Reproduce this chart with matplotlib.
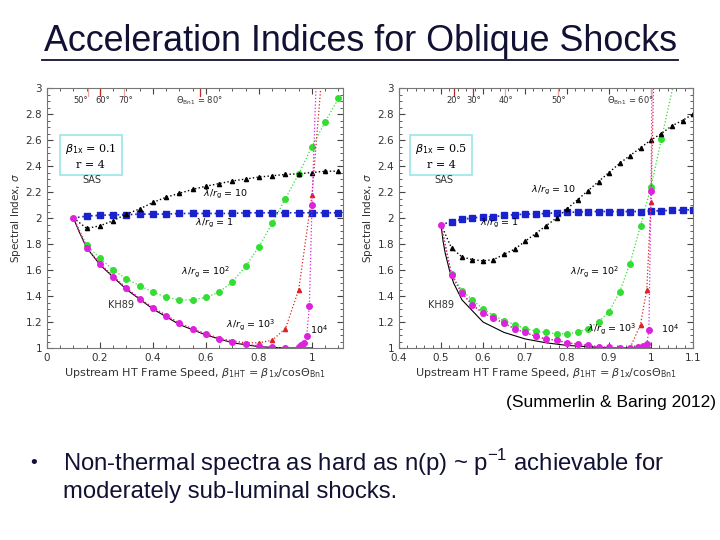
import numpy as np
import matplotlib
matplotlib.use('Agg')
import matplotlib.pyplot as plt

# ---- left panel data (beta_1x = 0.1) ----
L_x_blue = [0.15, 0.2, 0.25, 0.3, 0.35, 0.4, 0.45, 0.5, 0.55, 0.6, 0.65, 0.7, 0.75, 0.8, 0.85, 0.9, 0.95, 1.0, 1.05, 1.1]
L_y_blue = [2.015, 2.02, 2.025, 2.025, 2.03, 2.03, 2.03, 2.035, 2.035, 2.035, 2.035, 2.035, 2.04, 2.04, 2.04, 2.04, 2.04, 2.04, 2.04, 2.04]
L_x_black = [0.15, 0.2, 0.25, 0.3, 0.35, 0.4, 0.45, 0.5, 0.55, 0.6, 0.65, 0.7, 0.75, 0.8, 0.85, 0.9, 0.95, 1.0, 1.05, 1.1]
L_y_black = [1.92, 1.94, 1.98, 2.03, 2.07, 2.12, 2.16, 2.19, 2.22, 2.245, 2.265, 2.285, 2.3, 2.315, 2.325, 2.335, 2.34, 2.35, 2.36, 2.36]
L_x_green = [0.15, 0.2, 0.25, 0.3, 0.35, 0.4, 0.45, 0.5, 0.55, 0.6, 0.65, 0.7, 0.75, 0.8, 0.85, 0.9, 0.95, 1.0, 1.05, 1.1]
L_y_green = [1.79, 1.69, 1.6, 1.53, 1.48, 1.43, 1.39, 1.37, 1.37, 1.39, 1.43, 1.51, 1.63, 1.78, 1.96, 2.15, 2.34, 2.55, 2.74, 2.92]
L_x_red = [0.15, 0.2, 0.25, 0.3, 0.35, 0.4, 0.45, 0.5, 0.55, 0.6, 0.65, 0.7, 0.75, 0.8, 0.85, 0.9, 0.95, 1.0]
L_y_red = [1.77, 1.65, 1.55, 1.46, 1.38, 1.31, 1.25, 1.19, 1.145, 1.11, 1.075, 1.055, 1.04, 1.04, 1.06, 1.15, 1.45, 2.18]
L_red_tail = ([1.0, 1.045], [2.18, 3.3])
L_x_mag = [0.15, 0.2, 0.25, 0.3, 0.35, 0.4, 0.45, 0.5, 0.55, 0.6, 0.65, 0.7, 0.75, 0.8, 0.85, 0.9, 0.95, 0.96, 0.97, 0.98, 0.99, 1.0]
L_y_mag = [1.77, 1.65, 1.55, 1.46, 1.38, 1.31, 1.25, 1.19, 1.145, 1.105, 1.07, 1.045, 1.03, 1.015, 1.005, 1.0, 1.005, 1.02, 1.04, 1.09, 1.32, 2.1]
L_mag_tail = ([1.0, 1.02], [2.1, 3.3])
L_x_kh = [0.1, 0.12, 0.15, 0.2, 0.3, 0.4, 0.5, 0.6, 0.7, 0.8, 0.9, 1.0]
L_y_kh = [2.0, 1.9, 1.77, 1.64, 1.45, 1.3, 1.18, 1.1, 1.04, 1.01, 1.0, 1.0]
L_start = (0.1, 2.0)
L_ang_x = [0.156, 0.2, 0.292, 0.576]
L_ang_labx = [0.128, 0.21, 0.297, 0.575]
L_ang_lab = ['50°', '60°', '70°', r'$\Theta_{\rm Bn1}$ = 80°']
L_ang_red = [False, True, False, True]

# ---- right panel data (beta_1x = 0.5) ----
R_x = [0.525, 0.55, 0.575, 0.6, 0.625, 0.65, 0.675, 0.7, 0.725, 0.75, 0.775, 0.8, 0.825, 0.85, 0.875, 0.9, 0.925, 0.95, 0.975, 1.0, 1.025, 1.05, 1.075, 1.1]
R_y_blue = [1.97, 1.99, 2.0, 2.01, 2.01, 2.02, 2.025, 2.03, 2.03, 2.035, 2.04, 2.045, 2.045, 2.05, 2.05, 2.05, 2.05, 2.05, 2.05, 2.055, 2.055, 2.06, 2.06, 2.065]
R_y_black = [1.77, 1.7, 1.68, 1.67, 1.68, 1.72, 1.76, 1.82, 1.88, 1.94, 2.0, 2.07, 2.14, 2.21, 2.28, 2.35, 2.42, 2.48, 2.54, 2.6, 2.65, 2.71, 2.75, 2.8]
R_x_green = [0.525, 0.55, 0.575, 0.6, 0.625, 0.65, 0.675, 0.7, 0.725, 0.75, 0.775, 0.8, 0.825, 0.85, 0.875, 0.9, 0.925, 0.95, 0.975, 1.0, 1.025]
R_y_green = [1.57, 1.44, 1.37, 1.3, 1.25, 1.21, 1.18, 1.15, 1.13, 1.12, 1.11, 1.11, 1.12, 1.15, 1.2, 1.28, 1.43, 1.65, 1.94, 2.24, 2.61]
R_green_tail = ([1.025, 1.055], [2.61, 3.05])
R_x_red = [0.525, 0.55, 0.575, 0.6, 0.625, 0.65, 0.675, 0.7, 0.725, 0.75, 0.775, 0.8, 0.825, 0.85, 0.875, 0.9, 0.925, 0.95, 0.975, 0.99, 1.0]
R_y_red = [1.56, 1.42, 1.33, 1.27, 1.23, 1.19, 1.15, 1.12, 1.09, 1.07, 1.06, 1.04, 1.03, 1.02, 1.01, 1.005, 1.0, 1.0, 1.18, 1.45, 2.12]
R_red_tail = ([1.0, 1.008], [2.12, 3.3])
R_x_mag = [0.525, 0.55, 0.575, 0.6, 0.625, 0.65, 0.675, 0.7, 0.725, 0.75, 0.775, 0.8, 0.825, 0.85, 0.875, 0.9, 0.925, 0.95, 0.97, 0.98, 0.99, 0.995, 1.0]
R_y_mag = [1.56, 1.42, 1.33, 1.27, 1.23, 1.19, 1.15, 1.12, 1.09, 1.07, 1.06, 1.04, 1.03, 1.02, 1.01, 1.005, 1.0, 1.0, 1.005, 1.015, 1.03, 1.14, 2.21]
R_mag_tail = ([1.0, 1.003], [2.21, 3.3])
R_x_kh = [0.5, 0.505, 0.51, 0.52, 0.53, 0.55, 0.6, 0.65, 0.7, 0.75, 0.8, 0.85, 0.9, 1.0]
R_y_kh = [1.93, 1.82, 1.73, 1.6, 1.5, 1.37, 1.2, 1.12, 1.07, 1.04, 1.02, 1.01, 1.0, 1.0]
R_start = (0.5, 1.95)
R_ang_x = [0.532, 0.577, 0.653, 0.778, 1.0]
R_ang_labx = [0.53, 0.578, 0.655, 0.78, 0.95]
R_ang_lab = ['20°', '30°', '40°', '50°', r'$\Theta_{\rm Bn1}$ = 60°']
R_ang_red = [True, True, False, False, False]

green = '#33dd33'
blue = '#1a22cc'
mag = '#dd22dd'
red = '#dd2222'

fig = plt.figure(figsize=(7.2, 5.4), dpi=100)
fig.text(0.5, 1 - 42 / 540, 'Acceleration Indices for Oblique Shocks', ha='center', va='center',
         fontsize=25.8, family='Liberation Sans', color='#111133')
fig.add_artist(plt.Line2D([42 / 720, 678 / 720], [1 - 60 / 540, 1 - 60 / 540], color='#111133', lw=1.3))


def panel(ax, start, xb, yb, xk, yk, xg, yg, gtail, xr, yr, rtail, xm, ym, mtail,
          xkh, ykh, angx, anglabx, anglab, angred, xlim, xticks, beta, labpos):
    sx, sy = start
    ax.plot([sx] + list(xkh[1:]), [sy] + list(ykh[1:]), '-', color='k', lw=0.8)
    ax.plot([sx] + xg, [sy] + yg, ':', color=green, lw=0.9)
    ax.plot(xg, yg, 'o', color=green, ms=4)
    if gtail is not None:
        ax.plot(gtail[0], gtail[1], ':', color=green, lw=0.9)
    ax.plot([sx] + xb, [sy] + yb, ':', color=blue, lw=1.2)
    ax.plot(xb, yb, 's', color=blue, ms=3.8)
    ax.plot([sx] + xk, [sy] + yk, ':', color='k', lw=1.0)
    ax.plot(xk, yk, '^', color='k', ms=3)
    ax.plot([sx] + xr, [sy] + yr, ':', color=red, lw=0.9)
    ax.plot(rtail[0], rtail[1], ':', color=red, lw=0.9)
    ax.plot(xr, yr, '^', color=red, ms=3)
    ax.plot([sx] + xm, [sy] + ym, ':', color=mag, lw=0.9)
    ax.plot(mtail[0], mtail[1], ':', color=mag, lw=0.9)
    ax.plot(xm, ym, 'o', color=mag, ms=4)
    ax.plot([sx], [sy], 'o', color=mag, ms=4)

    for x, lx, lab, isred in zip(angx, anglabx, anglab, angred):
        ax.plot([x, x], [2.94, 3.0], color='#cc2222' if isred else '#f0a0a0', lw=0.9)
        ax.text(lx, 2.905, lab, ha='center', va='center', fontsize=6, color='#333333')

    ax.set_xlim(*xlim)
    ax.set_ylim(1, 3)
    ax.set_xticks(xticks)
    ax.set_xticklabels([('%g' % t) for t in xticks])
    ax.set_yticks(np.arange(1, 3.01, 0.2))
    ax.set_yticklabels(['1', '1.2', '1.4', '1.6', '1.8', '2', '2.2', '2.4', '2.6', '2.8', '3'])
    ax.minorticks_on()
    ax.tick_params(which='both', direction='in', top=True, right=True, labelsize=7.5,
                   colors='#444444', labelcolor='#333333')
    ax.tick_params(which='major', length=4)
    ax.tick_params(which='minor', length=2)
    for s in ax.spines.values():
        s.set_color('#777777')
        s.set_linewidth(0.8)
    ax.set_ylabel(r'Spectral Index, $\sigma$', fontsize=7.5, color='#333333', labelpad=2)
    ax.set_xlabel(r'Upstream HT Frame Speed, $\beta_{\rm 1HT}$ = $\beta_{\rm 1x}$/cos$\Theta_{\rm Bn1}$',
                  fontsize=8, color='#333333', labelpad=2)

    bx, sasx, l10, l1, l100, kh, l1000, l4 = labpos
    ax.text(bx, 2.48, r'$\beta_{\rm 1x}$ = %s' % beta + '\n' + 'r = 4', ha='center', va='center',
            fontsize=8, family='DejaVu Serif', linespacing=1.5,
            bbox=dict(boxstyle='square,pad=0.45', fc='white', ec='#99e6e6', lw=1.2))
    ax.text(sasx, 2.29, 'SAS', ha='center', va='center', fontsize=7, color='#333333')
    fs = 6.8
    ax.text(l10[0], l10[1], r'$\lambda/r_{\rm g}$ = 10', ha='center', va='center', fontsize=fs)
    ax.text(l1[0], l1[1], r'$\lambda/r_{\rm g}$ = 1', ha='center', va='center', fontsize=fs)
    ax.text(l100[0], l100[1], r'$\lambda/r_{\rm g}$ = 10$^2$', ha='center', va='center', fontsize=fs)
    ax.text(kh[0], kh[1], 'KH89', ha='center', va='center', fontsize=7, color='#333333')
    ax.text(l1000[0], l1000[1], r'$\lambda/r_{\rm g}$ = 10$^3$', ha='center', va='center', fontsize=fs)
    ax.text(l4[0], l4[1], r'10$^4$', ha='center', va='center', fontsize=fs)


ax1 = fig.add_axes([47 / 720, 1 - 348 / 540, 296 / 720, 260 / 540])
panel(ax1, L_start, L_x_blue, L_y_blue, L_x_black, L_y_black, L_x_green, L_y_green, None,
      L_x_red, L_y_red, L_red_tail, L_x_mag, L_y_mag, L_mag_tail, L_x_kh, L_y_kh,
      L_ang_x, L_ang_labx, L_ang_lab, L_ang_red, (0, 1.117), [0, 0.2, 0.4, 0.6, 0.8, 1.0], '0.1',
      (0.165, 0.17, (0.675, 2.18), (0.63, 1.96), (0.6, 1.585), (0.28, 1.33), (0.77, 1.18), (1.025, 1.14)))

ax2 = fig.add_axes([399 / 720, 1 - 348 / 540, 294 / 720, 260 / 540])
panel(ax2, R_start, R_x, R_y_blue, R_x, R_y_black, R_x_green, R_y_green, R_green_tail,
      R_x_red, R_y_red, R_red_tail, R_x_mag, R_y_mag, R_mag_tail, R_x_kh, R_y_kh,
      R_ang_x, R_ang_labx, R_ang_lab, R_ang_red, (0.4, 1.1), [0.4, 0.5, 0.6, 0.7, 0.8, 0.9, 1.0, 1.1], '0.5',
      (0.5, 0.507, (0.767, 2.21), (0.64, 1.96), (0.867, 1.585), (0.50, 1.33), (0.907, 1.15), (1.045, 1.15)))

fig.text(716 / 720, 1 - 403 / 540, '(Summerlin & Baring 2012)', ha='right', va='center',
         fontsize=12.5, family='Liberation Sans')
fig.text(30 / 720, 1 - 463 / 540, '•', ha='left', va='center', fontsize=14, family='Liberation Sans',
         color='#111133')
fig.text(63 / 720, 1 - 463 / 540, r'Non-thermal spectra as hard as n(p) ~ p$^{\mathregular{-1}}$ achievable for',
         ha='left', va='center', fontsize=17.2, family='Liberation Sans', color='#111133')
fig.text(63 / 720, 1 - 492 / 540, 'moderately sub-luminal shocks.', ha='left', va='center',
         fontsize=17.2, family='Liberation Sans', color='#111133')

fig.savefig('out.png', dpi=100)
